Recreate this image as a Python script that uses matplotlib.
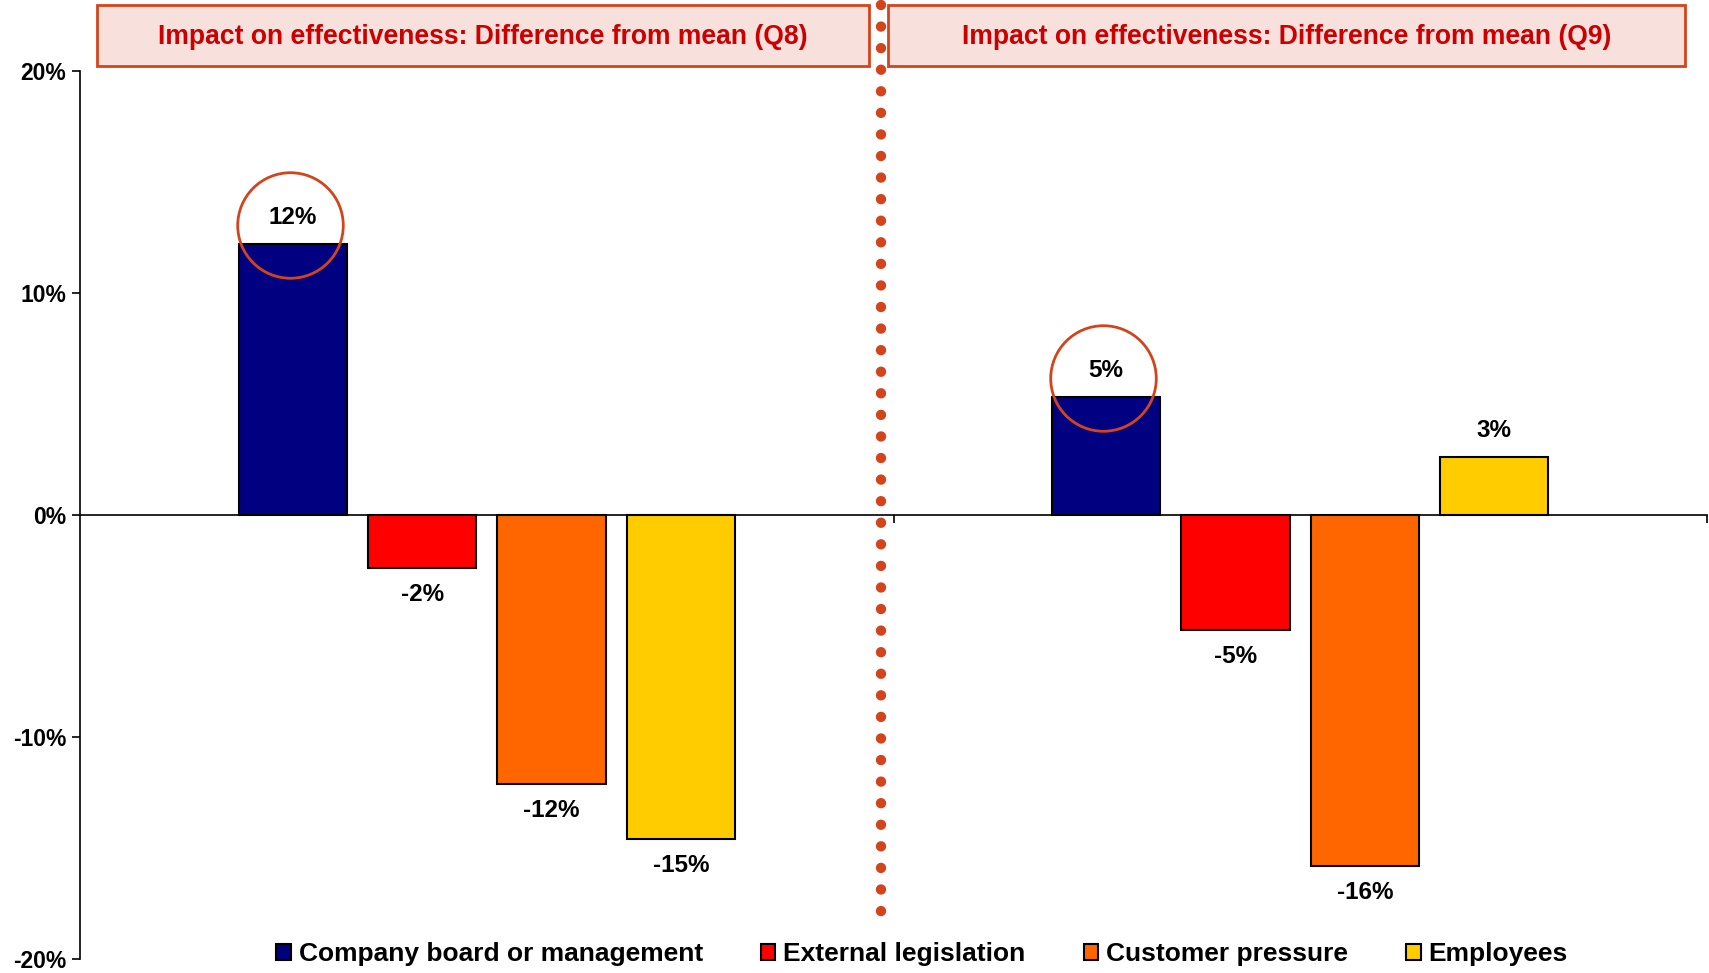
import matplotlib
matplotlib.use("Agg")
import matplotlib.pyplot as plt
from matplotlib.patches import Rectangle
from matplotlib.lines import Line2D
from matplotlib.transforms import offset_copy
import numpy as np

# andmed
kysimused = ["Q8", "Q9"]
seeriad = ["Company board or management", "External legislation", "Customer pressure", "Employees"]
q8 = [12.2, -2.4, -12.1, -14.6]
q9 = [5.3, -5.2, -15.8, 2.6]
sildid_q8 = ["12%", "-2%", "-12%", "-15%"]
sildid_q9 = ["5%", "-5%", "-16%", "3%"]
pealkirjad = ["Impact on effectiveness: Difference from mean (Q8)",
              "Impact on effectiveness: Difference from mean (Q9)"]
ytikid = [-20, -10, 0, 10, 20]
ytiki_sildid = ["-20%", "-10%", "0%", "10%", "20%"]

varvid = ["#000080", "#ff0000", "#ff6600", "#ffcc00"]
punane = "#cc0000"
aar = "#d4441c"

plt.rcParams["font.family"] = ["Liberation Sans", "DejaVu Sans"]
plt.rcParams["font.weight"] = "bold"

fig = plt.figure(figsize=(17.09, 9.73), dpi=100)
W, H = 1709, 973
ax = fig.add_axes([80 / W, 14 / H, 1 - 80 / W - 2 / W, (959 - 71) / H])

vaartused = np.array([q8, q9])
sildid = [sildid_q8, sildid_q9]
laius = 0.133
samm = 0.159
nihked = (np.arange(4) - 1.5) * samm

for j in range(4):
    x = np.arange(2) + 0.5 + nihked[j]
    ax.bar(x, vaartused[:, j], width=laius, color=varvid[j],
           edgecolor="black", linewidth=1.5, label=seeriad[j], zorder=3)
    for i in range(2):
        v = vaartused[i, j]
        ax.annotate(sildid[i][j], (x[i], v), xytext=(0, 19 if v > 0 else -19),
                    textcoords="offset points", ha="center", va="center",
                    fontsize=17.5, fontweight="bold", zorder=5)

# ringid esimese seeria ümber
ringi_tr = offset_copy(ax.transData, fig=fig, x=-2, y=14, units="points")
for i in range(2):
    ax.plot(i + 0.5 + nihked[0], vaartused[i, 0], marker="o", ms=76,
            mfc="none", mec=aar, mew=2, transform=ringi_tr, zorder=6,
            clip_on=False)

ax.set_xlim(0, 2)
ax.set_ylim(-20, 20)
ax.set_yticks(ytikid)
ax.set_yticklabels(ytiki_sildid, fontsize=16.5, fontweight="bold")
ax.set_xticks([1, 2])
ax.set_xticklabels(["", ""])
ax.spines["top"].set_visible(False)
ax.spines["right"].set_visible(False)
ax.spines["bottom"].set_position(("data", 0))
ax.spines["left"].set_linewidth(1.2)
ax.spines["bottom"].set_linewidth(1.2)
ax.tick_params(axis="y", direction="out", length=6, width=1.2, pad=4)
ax.tick_params(axis="x", direction="out", length=6, width=1.2)

# punktiirjoon
fig.add_artist(Line2D([881 / W, 881 / W], [1 - 5 / H, 1 - 918 / H],
                      transform=fig.transFigure, color=aar, lw=7.5,
                      ls=(0, (0.001, 2.07)), dash_capstyle="round", zorder=10))

# pealkirjakastid
kastid = [(97, 869), (888, 1685)]
for (x0, x1), tekst in zip(kastid, pealkirjad):
    fig.add_artist(Rectangle((x0 / W, 1 - 66 / H), (x1 - x0) / W, 61 / H,
                             transform=fig.transFigure, facecolor="#f8e0dc",
                             edgecolor=aar, linewidth=2, zorder=8))
    fig.text((x0 + x1) / 2 / W, 1 - 37 / H, tekst, ha="center", va="center",
             color=punane, fontsize=19.1, fontweight="bold", zorder=9)

fig.legend(loc="center", bbox_to_anchor=(922 / W, 19 / H), ncol=4,
           frameon=False, handlelength=0.55, handleheight=0.55,
           handletextpad=0.3, columnspacing=2.2,
           prop={"weight": "bold", "size": 19})

fig.savefig("out.png", dpi=100)
